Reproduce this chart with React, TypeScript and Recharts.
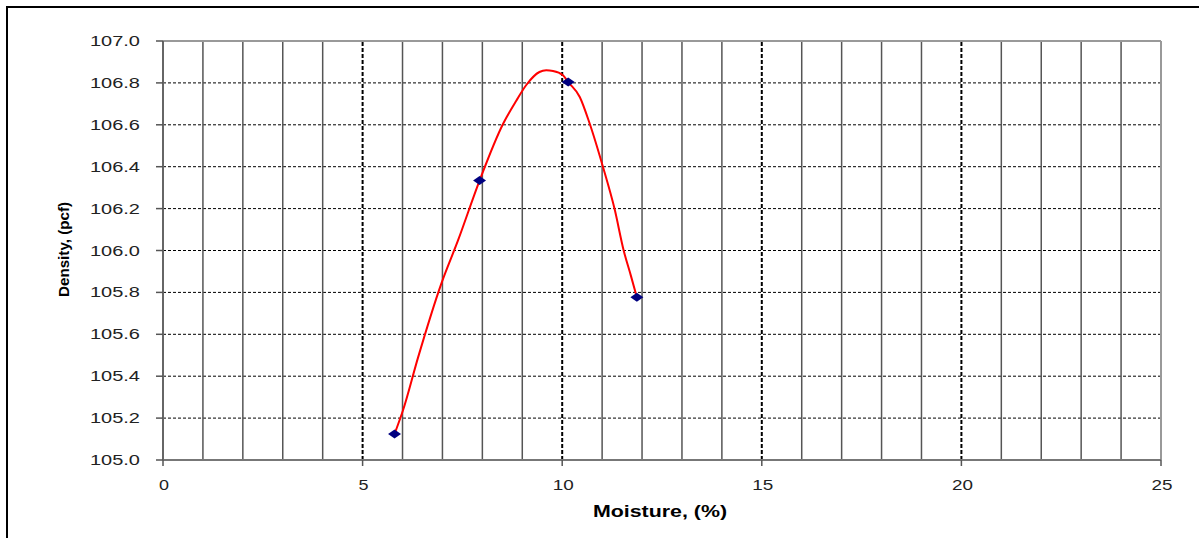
import {
  ComposedChart,
  Line,
  Scatter,
  XAxis,
  YAxis,
  CartesianGrid,
  ReferenceLine,
  Label,
} from "recharts";

// measured points (moisture %, dry density pcf)
const moisture = [5.8, 7.93, 10.15, 11.87];
const density = [105.124, 106.334, 106.804, 105.777];

// fitted curve
const curveMoisture = [
  5.8, 6.01, 6.39, 6.97, 7.39, 7.93, 8.52, 8.85, 9.1, 9.43, 9.6, 9.77, 10.02,
  10.15, 10.44, 10.69, 11.02, 11.31, 11.54, 11.72, 11.87,
];
const curveDensity = [
  105.124, 105.236, 105.49, 105.841, 106.048, 106.334, 106.605, 106.715,
  106.79, 106.852, 106.86, 106.857, 106.836, 106.804, 106.733, 106.605, 106.4,
  106.2, 106.0, 105.88, 105.777,
];

const xTicks = [0, 5, 10, 15, 20, 25];
const yTicks = [105.0, 105.2, 105.4, 105.6, 105.8, 106.0, 106.2, 106.4, 106.6, 106.8, 107.0];
const minorX = [1, 2, 3, 4, 6, 7, 8, 9, 11, 12, 13, 14, 16, 17, 18, 19, 21, 22, 23, 24];
const majorX = [5, 10, 15, 20];

const points = moisture.map((m, i) => ({ x: m, y: density[i] }));
const curve = curveMoisture.map((m, i) => ({ x: m, y: curveDensity[i] }));

const FONT = "'Liberation Sans', Arial, sans-serif";

const YTick = (props: any) => {
  const { y, payload } = props;
  const label = Number(payload.value).toFixed(1);
  return (
    <text
      x={90}
      y={y + 5}
      fontFamily={FONT}
      fontSize={14}
      fill="#222"
      textLength={50}
      lengthAdjust="spacingAndGlyphs"
    >
      {label}
    </text>
  );
};

const XTick = (props: any) => {
  const { x, payload } = props;
  const label = String(payload.value);
  const len = label.length === 1 ? 10 : 21;
  return (
    <text
      x={x - len / 2 + 1}
      y={490}
      fontFamily={FONT}
      fontSize={14}
      fill="#222"
      textLength={len}
      lengthAdjust="spacingAndGlyphs"
    >
      {label}
    </text>
  );
};

const Diamond = (props: any) => {
  const { cx, cy } = props;
  return (
    <polygon
      points={`${cx - 6.5},${cy} ${cx},${cy - 4.5} ${cx + 6.5},${cy} ${cx},${cy + 4.5}`}
      fill="#000080"
    />
  );
};

export default function App() {
  return (
    <div
      style={{
        position: "absolute",
        left: 0,
        top: 0,
        width: 1199,
        height: 538,
        overflow: "hidden",
        background: "#fff",
      }}
    >
      <div
        style={{
          position: "absolute",
          left: 6,
          top: 6,
          right: -20,
          bottom: -20,
          borderTop: "2px solid #000",
          borderLeft: "2px solid #000",
        }}
      />
      <div style={{ position: "absolute", left: 0, top: 0 }}>
        <ComposedChart
          width={1199}
          height={538}
          margin={{ top: 41, right: 38, bottom: 28, left: 0 }}
        >
          <CartesianGrid
            vertical={false}
            horizontal
            stroke="#000"
            strokeWidth={1}
            strokeDasharray="3 2"
          />
          <XAxis
            type="number"
            dataKey="x"
            domain={[0, 25]}
            ticks={xTicks}
            allowDataOverflow
            height={50}
            tickSize={6}
            tickLine={{ stroke: "#555", strokeWidth: 1.5 }}
            axisLine={{ stroke: "#777", strokeWidth: 2 }}
            tick={<XTick />}
          >
            <Label
              content={() => (
                <text
                  x={593}
                  y={517}
                  fontFamily={FONT}
                  fontSize={16}
                  fontWeight="bold"
                  fill="#000"
                  textLength={134}
                  lengthAdjust="spacingAndGlyphs"
                >
                  Moisture, (%)
                </text>
              )}
            />
          </XAxis>
          <YAxis
            type="number"
            dataKey="y"
            domain={[105, 107]}
            ticks={yTicks}
            allowDataOverflow
            width={163}
            tickSize={7}
            tickLine={{ stroke: "#555", strokeWidth: 1.5 }}
            axisLine={{ stroke: "#666", strokeWidth: 2 }}
            tick={<YTick />}
          >
            <Label
              content={() => (
                <text
                  x={0}
                  y={0}
                  transform="translate(69, 297) rotate(-90)"
                  fontFamily={FONT}
                  fontSize={14}
                  fontWeight="bold"
                  fill="#000"
                  textLength={95}
                  lengthAdjust="spacingAndGlyphs"
                >
                  Density, (pcf)
                </text>
              )}
            />
          </YAxis>
          {minorX.map((v) => (
            <ReferenceLine key={`m${v}`} x={v} stroke="#555" strokeWidth={1.5} />
          ))}
          {majorX.map((v) => (
            <ReferenceLine
              key={`M${v}`}
              x={v}
              stroke="#000"
              strokeWidth={2}
              strokeDasharray="4 2"
            />
          ))}
          <ReferenceLine y={107} stroke="#999" strokeWidth={2} />
          <ReferenceLine x={25} stroke="#999" strokeWidth={2} />
          <Line
            data={curve}
            dataKey="y"
            type="monotone"
            stroke="#ff0000"
            strokeWidth={2}
            dot={false}
            activeDot={false}
            isAnimationActive={false}
          />
          <Scatter
            data={points}
            dataKey="y"
            shape={<Diamond />}
            isAnimationActive={false}
          />
        </ComposedChart>
      </div>
    </div>
  );
}
